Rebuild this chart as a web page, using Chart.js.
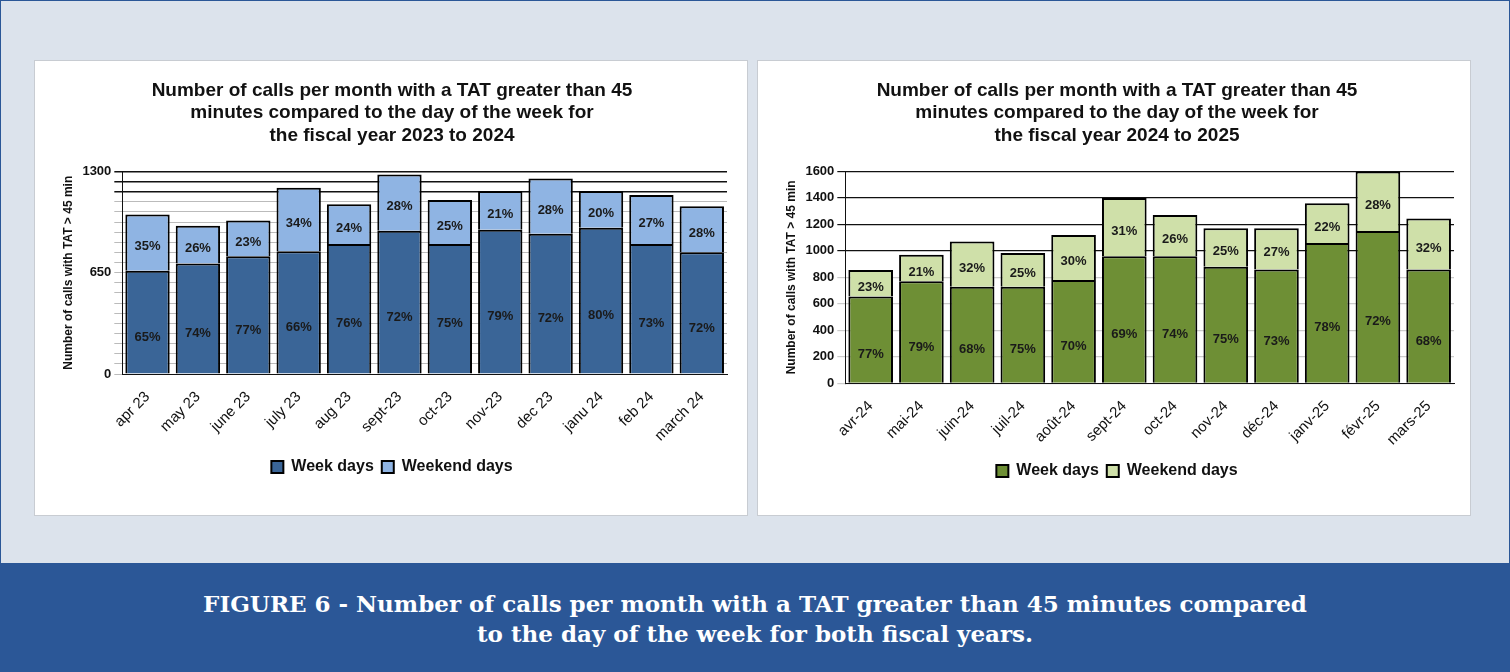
<!DOCTYPE html>
<html>
<head>
<meta charset="utf-8">
<script src="https://cdn.jsdelivr.net/npm/chart.js@4"></script>
<style>
  body { margin: 0; width: 1510px; height: 672px; background: #dce3ec; overflow: hidden; font-family: "Liberation Sans", Arial, sans-serif; }
  .frame { position: absolute; left: 0; top: 0; width: 1508px; height: 670px; border: 1px solid #2b5797; }
  .panel { position: absolute; top: 60px; width: 712px; height: 454px; background: #fff; border: 1px solid #c8ccd2; }
  #p1 { left: 34px; }
  #p2 { left: 757px; }
  .banner { position: absolute; left: 0; top: 563px; width: 1510px; height: 109px; background: #2b5797; color: #fff;
    font-family: "DejaVu Serif", serif; font-weight: bold; font-size: 23px; text-align: center; line-height: 30px; padding-top: 26px; box-sizing: border-box; }
</style>
</head>
<body>
<div class="frame"></div>
<div class="panel" id="p1"><canvas id="c1" width="712" height="454"></canvas></div>
<div class="panel" id="p2"><canvas id="c2" width="716" height="454"></canvas></div>
<div class="banner">FIGURE 6 - Number of calls per month with a TAT greater than 45 minutes compared<br>to the day of the week for both fiscal years.</div>
<script>
const months2324 = ['apr 23', 'may 23', 'june 23', 'july 23', 'aug 23', 'sept-23', 'oct-23', 'nov-23', 'dec 23', 'janu 24', 'feb 24', 'march 24'];
const week2324 = [663, 709, 755, 788, 834, 919, 834, 926, 900, 939, 834, 781];
const weekend2324 = [361, 243, 230, 407, 256, 361, 282, 249, 354, 236, 315, 296];
const weekPct2324 = ['65%', '74%', '77%', '66%', '76%', '72%', '75%', '79%', '72%', '80%', '73%', '72%'];
const weekendPct2324 = ['35%', '26%', '23%', '34%', '24%', '28%', '25%', '21%', '28%', '20%', '27%', '28%'];

const months2425 = ['avr-24', 'mai-24', 'juin-24', 'juil-24', 'août-24', 'sept-24', 'oct-24', 'nov-24', 'déc-24', 'janv-25', 'févr-25', 'mars-25'];
const week2425 = [655, 770, 730, 730, 780, 960, 960, 880, 860, 1060, 1150, 860];
const weekend2425 = [200, 200, 340, 255, 340, 440, 310, 290, 310, 300, 450, 385];
const weekPct2425 = ['77%', '79%', '68%', '75%', '70%', '69%', '74%', '75%', '73%', '78%', '72%', '68%'];
const weekendPct2425 = ['23%', '21%', '32%', '25%', '30%', '31%', '26%', '25%', '27%', '22%', '28%', '32%'];

const font = "'Liberation Sans', Arial, sans-serif";

const pctLabels = {
  id: 'pctLabels',
  afterDatasetsDraw(chart) {
    const ctx = chart.ctx;
    ctx.save();
    ctx.font = 'bold 13px ' + font;
    ctx.fillStyle = '#1a1a1a';
    ctx.textAlign = 'center';
    ctx.textBaseline = 'middle';
    chart.data.datasets.forEach((ds, i) => {
      chart.getDatasetMeta(i).data.forEach((bar, j) => {
        const y = (bar.y + bar.base) / 2;
        ctx.fillText(ds.pct[j], bar.x, i === 0 ? y + 15 : y + 4);
      });
    });
    ctx.restore();
  },
};

const buildChart = (id, title, labels, week, weekend, weekPct, weekendPct, colors, yOpts, bottomPad) => {
  new Chart(document.getElementById(id), {
    type: 'bar',
    data: {
      labels: labels,
      datasets: [
        { label: 'Week days', data: week, pct: weekPct, backgroundColor: colors[0], borderColor: '#000', borderWidth: 2, barPercentage: 0.88, categoryPercentage: 1 },
        { label: 'Weekend days', data: weekend, pct: weekendPct, backgroundColor: colors[1], borderColor: '#000', borderWidth: 2, barPercentage: 0.88, categoryPercentage: 1 },
      ],
    },
    options: {
      responsive: false,
      animation: false,
      layout: { padding: { left: 22, right: 20, top: 18, bottom: bottomPad } },
      plugins: {
        title: { display: true, text: title, color: '#111', font: { family: font, size: 19, weight: 'bold' }, lineHeight: 1.2, padding: { bottom: 24 } },
        legend: {
          position: 'bottom',
          labels: { color: '#111', font: { family: font, size: 16, weight: 'bold' }, boxWidth: 12, boxHeight: 12, padding: 8 },
        },
        tooltip: { enabled: false },
      },
      scales: {
        x: {
          stacked: true,
          grid: { display: false },
          border: { color: '#111' },
          ticks: { color: '#111', font: { family: font, size: 15 }, maxRotation: 45, minRotation: 45, padding: 6 },
        },
        y: Object.assign({
          stacked: true,
          min: 0,
          border: { color: '#111' },
          title: { display: true, text: 'Number of calls with TAT > 45 min', color: '#111', font: { family: font, size: 12, weight: 'bold' } },
        }, yOpts),
      },
    },
    plugins: [pctLabels],
  });
};

buildChart('c1', ['Number of calls per month with a TAT greater than 45', 'minutes compared to the day of the week for', 'the fiscal year 2023 to 2024'],
  months2324, week2324, weekend2324, weekPct2324, weekendPct2324, ['#3a6597', '#8fb4e3'], {
    max: 1300,
    ticks: {
      stepSize: 65, autoSkip: false, color: '#111', font: { family: font, size: 13, weight: 'bold' },
      callback: (v) => (v === 0 || v === 650 || v === 1300 ? v : ''),
    },
    grid: {
      color: (c) => (c.tick.value >= 1170 ? '#111' : '#bbb'),
      lineWidth: (c) => (c.tick.value >= 1170 ? 1.5 : 1),
    },
  }, 30);

buildChart('c2', ['Number of calls per month with a TAT greater than 45', 'minutes compared to the day of the week for', 'the fiscal year 2024 to 2025'],
  months2425, week2425, weekend2425, weekPct2425, weekendPct2425, ['#6e8f35', '#cfe0a9'], {
    max: 1600,
    ticks: { stepSize: 200, color: '#111', font: { family: font, size: 13, weight: 'bold' }, callback: (v) => String(v) },
    grid: {
      color: (c) => (c.tick.value >= 1000 && c.tick.value % 200 === 0 ? '#111' : '#ccc'),
      lineWidth: 1.2,
    },
  }, 26);
</script>
</body>
</html>
